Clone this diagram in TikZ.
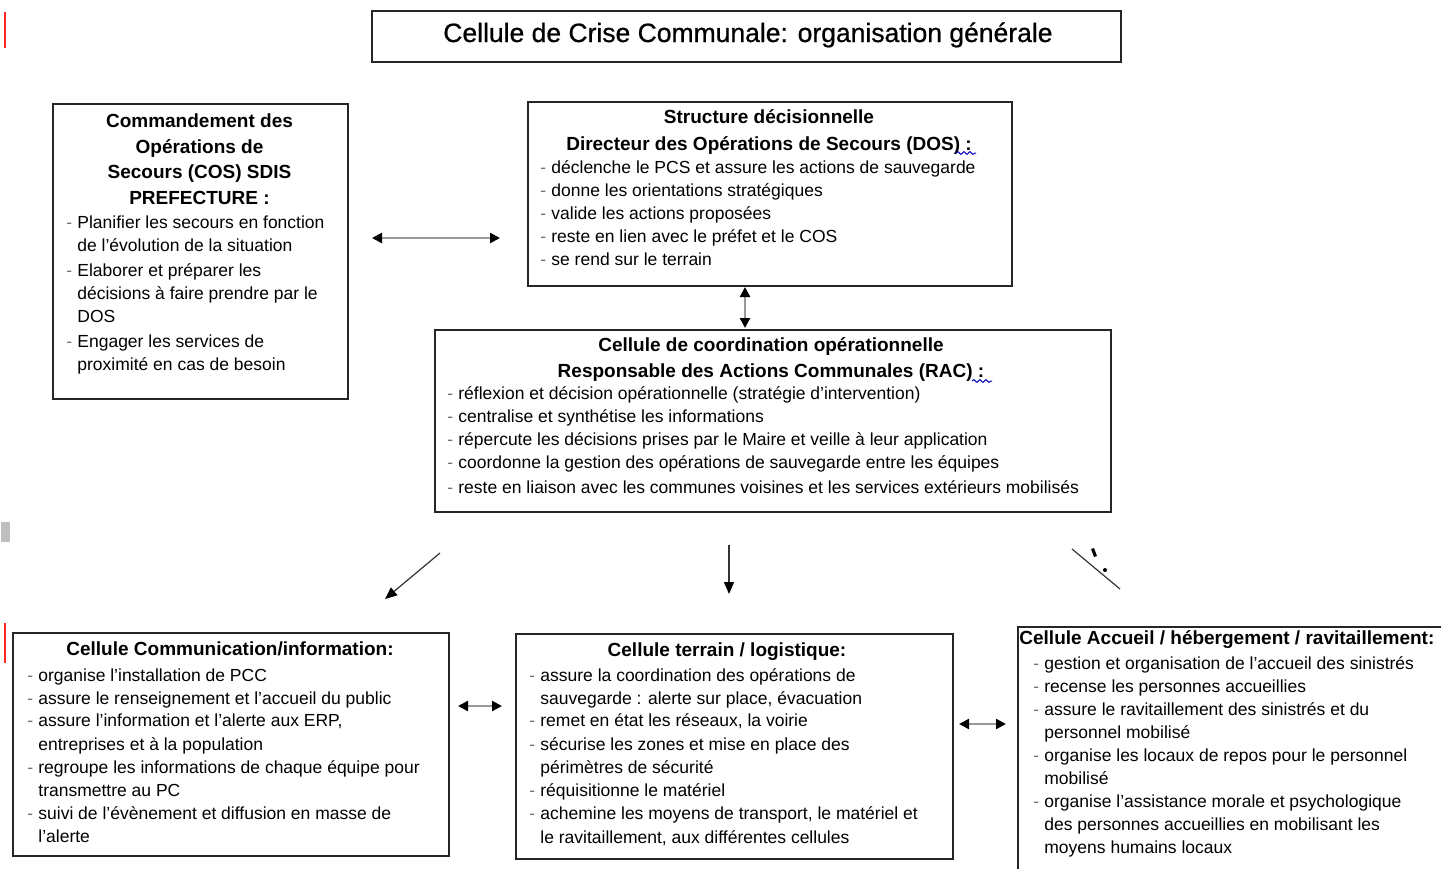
\documentclass[tikz,border=0pt]{standalone}
\usepackage{fontspec}
\setmainfont{Liberation Sans}
\newfontfamily\ttlfont[FakeBold=0.7]{Liberation Sans}
\usetikzlibrary{arrows.meta,decorations.pathmorphing}
\newcommand\bodyfs{\fontsize{8.75pt}{11.5pt}\selectfont}
\newcommand\headfs{\fontsize{9.5pt}{12pt}\selectfont\bfseries}
\newcommand\dl{\llap{\textcolor{black!55}{-}\hspace{2.6pt}}}
\tikzset{
  boxst/.style={draw=black!85, line width=0.9pt, rectangle, inner sep=0pt, anchor=north west},
  bodytxt/.style={anchor=base west, inner sep=0pt, font=\bodyfs},
  headtxt/.style={anchor=base, inner sep=0pt, font=\headfs},
  dbl/.style={line width=1.1pt, draw=black!40, arrows={Triangle[length=5pt,width=5pt,color=black]-Triangle[length=5pt,width=5pt,color=black]}},
  sgl/.style={line width=0.6pt, draw=black!80, arrows={-Triangle[length=6pt,width=5pt,color=black]}},
  squig/.style={draw=blue!75!black, line width=0.5pt, decorate, decoration={snake, amplitude=0.7pt, segment length=3pt}},
  redmark/.style={draw=red!85, line width=1pt}
}
\begin{document}
\begin{tikzpicture}[x=0.5pt,y=-0.5pt]
\useasboundingbox (0,0) rectangle (1441,868);
\clip (0,0) rectangle (1441,868);
\fill[white] (0,0) rectangle (1441,868);

% margin marks
\coordinate (r1a) at (5,12); \coordinate (r1b) at (5,48);
\coordinate (r2a) at (5,623); \coordinate (r2b) at (5,663);
\draw[redmark] (r1a) -- (r1b);
\draw[redmark] (r2a) -- (r2b);
\fill[black!25] (1,522) rectangle (10,542);

% title
\node[boxst, minimum width=374.5pt, minimum height=25.5pt] (titlebox) at (371,10) {};
\node[anchor=base, inner sep=0pt, font=\ttlfont\fontsize{13.25pt}{16pt}\selectfont] (title) at (748,42) {Cellule de Crise Communale: organisation générale};

% COS box
\node[boxst, minimum width=147.5pt, minimum height=147.5pt] (cos) at (52,103) {};
\node[headtxt] (cosh1) at (199.5,127) {Commandement des};
\node[headtxt] (cosh2) at (199.5,153) {Opérations de};
\node[headtxt] (cosh3) at (199.5,178) {Secours (COS) SDIS};
\node[headtxt] (cosh4) at (199.5,204) {PREFECTURE :};
\foreach \y/\t [count=\i] in {228/{\dl Planifier les secours en fonction},251/{de l’évolution de la situation},276/{\dl Elaborer et préparer les},299/{décisions à faire prendre par le},322/{DOS},347/{\dl Engager les services de},370/{proximité en cas de besoin}}
  \node[bodytxt] (cosl\i) at (77,\y) {\t};

% DOS box
\node[boxst, minimum width=242pt, minimum height=92pt] (dos) at (527,101) {};
\node[headtxt] (dosh1) at (769,123) {Structure décisionnelle};
\node[headtxt] (dosh2) at (769,150) {Directeur des Opérations de Secours (DOS) :};
\coordinate (sq1a) at (956,153); \coordinate (sq1b) at (976,153);
\draw[squig] (sq1a) -- (sq1b);
\foreach \y/\t [count=\i] in {173/{\dl déclenche le PCS et assure les actions de sauvegarde},196/{\dl donne les orientations stratégiques},219/{\dl valide les actions proposées},242/{\dl reste en lien avec le préfet et le COS},265/{\dl se rend sur le terrain}}
  \node[bodytxt] (dosl\i) at (551,\y) {\t};

% RAC box
\node[boxst, minimum width=338pt, minimum height=91pt] (rac) at (434,329) {};
\node[headtxt] (rach1) at (771,351) {Cellule de coordination opérationnelle};
\node[headtxt] (rach2) at (771,377) {Responsable des Actions Communales (RAC) :};
\coordinate (sq2a) at (972,381); \coordinate (sq2b) at (992,381);
\draw[squig] (sq2a) -- (sq2b);
\foreach \y/\t [count=\i] in {399/{\dl réflexion et décision opérationnelle (stratégie d’intervention)},422/{\dl centralise et synthétise les informations},445/{\dl répercute les décisions prises par le Maire et veille à leur application},468/{\dl coordonne la gestion des opérations de sauvegarde entre les équipes},493/{\dl reste en liaison avec les communes voisines et les services extérieurs mobilisés}}
  \node[bodytxt] (racl\i) at (458,\y) {\t};

% Communication box
\node[boxst, minimum width=218pt, minimum height=111.5pt] (com) at (12,632) {};
\node[headtxt] (comh) at (230,655) {Cellule Communication/information:};
\foreach \y/\t [count=\i] in {681/{\dl organise l’installation de PCC},704/{\dl assure le renseignement et l’accueil du public},726/{\dl assure l’information et l’alerte aux ERP,},750/{entreprises et à la population},773/{\dl regroupe les informations de chaque équipe pour},796/{transmettre au PC},819/{\dl suivi de l’évènement et diffusion en masse de},842/{l’alerte}}
  \node[bodytxt] (coml\i) at (38,\y) {\t};

% Terrain box
\node[boxst, minimum width=218.5pt, minimum height=112.5pt] (ter) at (515,633) {};
\node[headtxt] (terh) at (727,656) {Cellule terrain / logistique:};
\foreach \y/\t [count=\i] in {681/{\dl assure la coordination des opérations de},704/{sauvegarde : alerte sur place, évacuation},726/{\dl remet en état les réseaux, la voirie},750/{\dl sécurise les zones et mise en place des},773/{périmètres de sécurité},796/{\dl réquisitionne le matériel},819/{\dl achemine les moyens de transport, le matériel et},843/{le ravitaillement, aux différentes cellules}}
  \node[bodytxt] (terl\i) at (540,\y) {\t};

% Accueil box (runs past the right and bottom edges)
\node[boxst, minimum width=225pt, minimum height=135pt] (acc) at (1017,626) {};
\node[anchor=base west, inner sep=0pt, font=\headfs] (acch) at (1019,644) {Cellule Accueil / hébergement / ravitaillement:};
\foreach \y/\t [count=\i] in {669/{\dl gestion et organisation de l’accueil des sinistrés},692/{\dl recense les personnes accueillies},715/{\dl assure le ravitaillement des sinistrés et du},738/{personnel mobilisé},761/{\dl organise les locaux de repos pour le personnel},784/{mobilisé},807/{\dl organise l’assistance morale et psychologique},830/{des personnes accueillies en mobilisant les},853/{moyens humains locaux}}
  \node[bodytxt] (accl\i) at (1044,\y) {\t};

% connectors
\coordinate (a1a) at (372,238); \coordinate (a1b) at (500,238);
\draw[dbl] (a1a) -- (a1b);
\coordinate (a2a) at (745,287); \coordinate (a2b) at (745,328);
\draw[dbl] (a2a) -- (a2b);
\coordinate (a3a) at (458,706); \coordinate (a3b) at (502,706);
\draw[dbl] (a3a) -- (a3b);
\coordinate (a4a) at (959,724); \coordinate (a4b) at (1006,724);
\draw[dbl] (a4a) -- (a4b);
\coordinate (a5a) at (440,553); \coordinate (a5b) at (385,599);
\draw[sgl] (a5a) -- (a5b);
\coordinate (a6a) at (729,545); \coordinate (a6b) at (729,594);
\draw[sgl] (a6a) -- (a6b);
\coordinate (a7a) at (1072,549); \coordinate (a7b) at (1120,589);
\draw[line width=0.6pt, draw=black!80] (a7a) -- (a7b);
\fill[black] (1091,549) -- (1094,548) -- (1097,556) -- (1094,557) -- cycle;
\fill[black] (1105,570) circle (2);
\end{tikzpicture}
\end{document}
